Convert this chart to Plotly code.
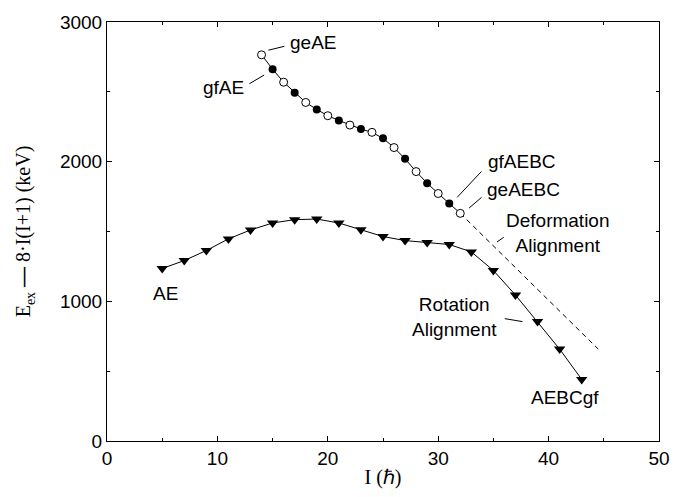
import plotly.graph_objects as go

# Upper band (alternating signature partners)
I_up = [14, 15, 16, 17, 18, 19, 20, 21, 22, 23, 24, 25, 26, 27, 28, 29, 30, 31, 32]
E_up = [2765, 2662, 2569, 2493, 2424, 2374, 2329, 2295, 2262, 2234, 2210, 2167, 2101,
        2020, 1929, 1846, 1772, 1701, 1630]
# Lower band (AE)
I_lo = [5, 7, 9, 11, 13, 15, 17, 19, 21, 23, 25, 27, 29, 31, 33, 35, 37, 39, 41, 43]
E_lo = [1235, 1292, 1364, 1447, 1511, 1561, 1585, 1589, 1561, 1513, 1464, 1435, 1421,
        1407, 1354, 1221, 1045, 855, 658, 441]
# Dashed extrapolation (deformation alignment)
I_dash = [32, 44.5]
E_dash = [1630, 658]

I_open = [i for i in I_up if i % 2 == 0]
E_open = [e for i, e in zip(I_up, E_up) if i % 2 == 0]
I_fill = [i for i in I_up if i % 2 == 1]
E_fill = [e for i, e in zip(I_up, E_up) if i % 2 == 1]

fig = go.Figure()
fig.add_trace(go.Scatter(x=I_dash, y=E_dash, mode="lines",
                         line=dict(color="black", width=1, dash="5px,4px"), hoverinfo="skip"))
fig.add_trace(go.Scatter(x=I_up, y=E_up, mode="lines", line=dict(color="black", width=1)))
fig.add_trace(go.Scatter(x=I_fill, y=E_fill, mode="markers",
                         marker=dict(symbol="circle", size=8, color="black")))
fig.add_trace(go.Scatter(x=I_open, y=E_open, mode="markers",
                         marker=dict(symbol="circle", size=8, color="white",
                                     line=dict(color="black", width=1))))
fig.add_trace(go.Scatter(x=I_lo, y=E_lo, mode="lines+markers",
                         line=dict(color="black", width=1),
                         marker=dict(symbol="triangle-down", size=10, color="black")))

lab_font = dict(family="Liberation Sans, Arial", size=19, color="black")
labels = [
    ("geAE", 18.67, 2850), ("gfAE", 10.52, 2529), ("gfAEBC", 37.57, 2001),
    ("geAEBC", 37.75, 1801), ("Deformation<br>Alignment", 40.82, 1487),
    ("Rotation<br>Alignment", 31.5, 888), ("AE", 5.28, 1059), ("AEBCgf", 41.45, 310),
]
for t, x, y in labels:
    fig.add_annotation(x=x, y=y, text=t, showarrow=False, font=lab_font,
                       xanchor="center", yanchor="middle")

leaders = [
    (14.62, 2798, 16.07, 2826), (12.9, 2558, 14.23, 2620),
    (31.71, 1744, 33.92, 1930), (32.8, 1668, 33.92, 1744),
    (35.33, 1425, 35.94, 1459), (36.03, 876, 37.63, 855),
]
for x0, y0, x1, y1 in leaders:
    fig.add_shape(type="line", x0=x0, y0=y0, x1=x1, y1=y1, xref="x", yref="y",
                  line=dict(color="black", width=1))

tick_font = dict(family="Liberation Sans, Arial", size=19, color="black")
title_font = dict(family="Liberation Serif, Times New Roman", size=20, color="black")

fig.update_xaxes(range=[0, 50], dtick=10, tick0=0, ticks="inside", ticklen=5,
                 tickcolor="black", showline=True, linecolor="black", linewidth=1,
                 mirror="ticks", showgrid=False, zeroline=False, tickfont=tick_font,
                 minor=dict(dtick=5, ticks="inside", ticklen=3, tickcolor="black", showgrid=False),
                 title=dict(text="I (ℏ)", font=title_font, standoff=2))
fig.update_yaxes(range=[0, 3000], dtick=1000, tick0=0, ticks="inside", ticklen=5,
                 tickcolor="black", showline=True, linecolor="black", linewidth=1,
                 mirror="ticks", showgrid=False, zeroline=False, tickfont=tick_font,
                 minor=dict(dtick=500, ticks="inside", ticklen=3, tickcolor="black", showgrid=False),
                 title=dict(text="E<sub>ex</sub> <b>—</b> 8·I(I+1) (keV)", font=title_font, standoff=23))

fig.update_layout(width=689, height=497, showlegend=False,
                  paper_bgcolor="white", plot_bgcolor="white",
                  margin=dict(l=107, r=30, t=20, b=56))
fig.write_html("out.html")
